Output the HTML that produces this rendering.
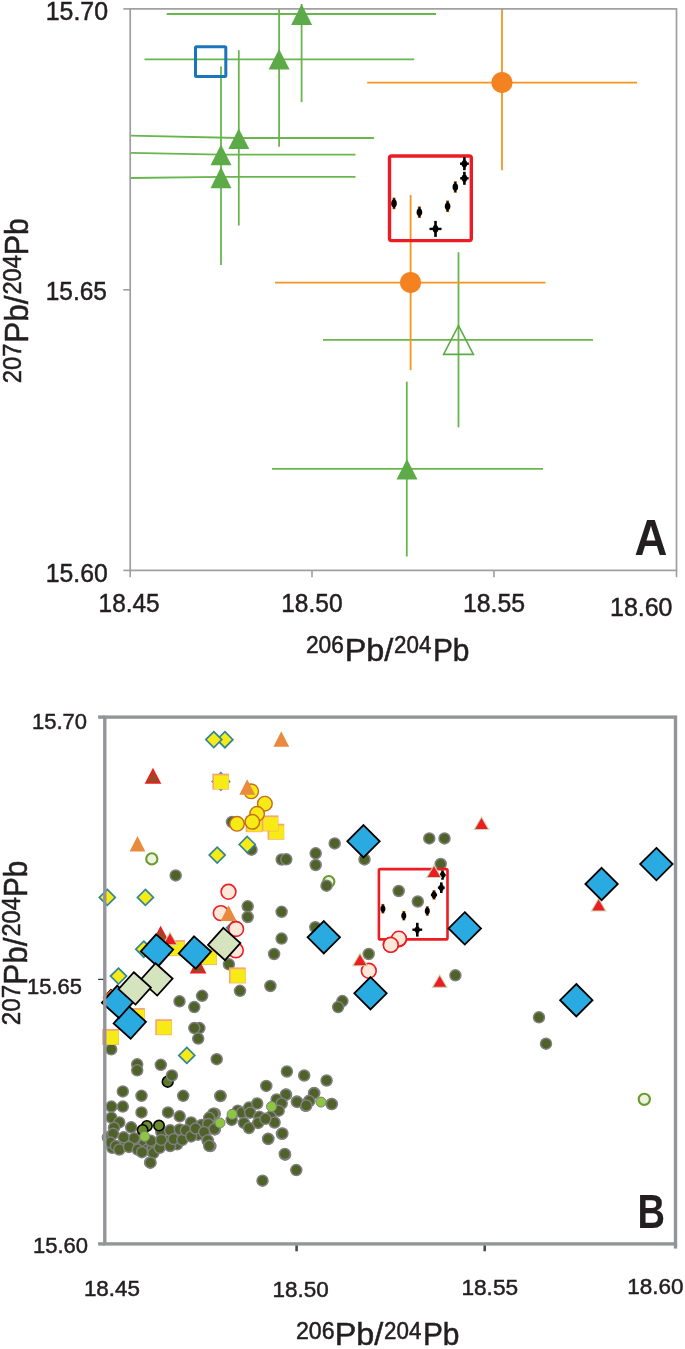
<!DOCTYPE html>
<html><head><meta charset="utf-8"><title>Pb isotope plots</title>
<style>html,body{margin:0;padding:0;background:#fff}svg{display:block}text{font-family:"Liberation Sans", sans-serif;fill:#231f20}</style>
</head><body>
<svg width="685" height="1349" viewBox="0 0 685 1349">
<rect width="685" height="1349" fill="#fff"/>
<g id="panelA">
<line x1="166.7" y1="14" x2="436.1" y2="14" stroke="#68b64d" stroke-width="1.8"/>
<line x1="301.6" y1="4" x2="301.6" y2="102.2" stroke="#68b64d" stroke-width="1.8"/>
<line x1="144.5" y1="59.3" x2="414.2" y2="59.3" stroke="#68b64d" stroke-width="1.8"/>
<line x1="279.1" y1="9" x2="279.1" y2="146.8" stroke="#68b64d" stroke-width="1.8"/>
<line x1="130.2" y1="135.6" x2="238.8" y2="138" stroke="#68b64d" stroke-width="1.8"/>
<line x1="238.8" y1="138" x2="373.9" y2="138" stroke="#68b64d" stroke-width="1.8"/>
<line x1="238.8" y1="50.2" x2="238.8" y2="225.5" stroke="#68b64d" stroke-width="1.8"/>
<line x1="131" y1="152.8" x2="221" y2="154.6" stroke="#68b64d" stroke-width="1.8"/>
<line x1="221" y1="154.6" x2="355.5" y2="154.6" stroke="#68b64d" stroke-width="1.8"/>
<line x1="221" y1="66.6" x2="221" y2="265" stroke="#68b64d" stroke-width="1.8"/>
<line x1="131" y1="178" x2="221" y2="176.8" stroke="#68b64d" stroke-width="1.8"/>
<line x1="221" y1="176.8" x2="355.5" y2="176.8" stroke="#68b64d" stroke-width="1.8"/>
<line x1="272" y1="468.9" x2="543" y2="468.9" stroke="#68b64d" stroke-width="1.8"/>
<line x1="406.8" y1="381.6" x2="406.8" y2="556.5" stroke="#68b64d" stroke-width="1.8"/>
<line x1="323" y1="339.8" x2="593" y2="339.8" stroke="#68b64d" stroke-width="1.8"/>
<line x1="458.5" y1="252.2" x2="458.5" y2="427.4" stroke="#68b64d" stroke-width="1.8"/>
<line x1="367.2" y1="82.6" x2="637.1" y2="82.6" stroke="#f7941d" stroke-width="1.8"/>
<line x1="502" y1="9" x2="502" y2="170.2" stroke="#f7941d" stroke-width="1.8"/>
<line x1="275" y1="282.6" x2="545.5" y2="282.6" stroke="#f7941d" stroke-width="1.8"/>
<line x1="410.6" y1="194.9" x2="410.6" y2="370.2" stroke="#f7941d" stroke-width="1.8"/>
<rect x="130.2" y="8.9" width="546.3" height="561.5" fill="none" stroke="#9e9e9e" stroke-width="1.7"/>
<line x1="123.3" y1="8.9" x2="130.2" y2="8.9" stroke="#9e9e9e" stroke-width="1.6"/>
<line x1="123.3" y1="289.8" x2="130.2" y2="289.8" stroke="#9e9e9e" stroke-width="1.6"/>
<line x1="123.3" y1="570.4" x2="130.2" y2="570.4" stroke="#9e9e9e" stroke-width="1.6"/>
<line x1="130.2" y1="570.4" x2="130.2" y2="577.2" stroke="#9e9e9e" stroke-width="1.6"/>
<line x1="312.0" y1="570.4" x2="312.0" y2="577.2" stroke="#9e9e9e" stroke-width="1.6"/>
<line x1="494.0" y1="570.4" x2="494.0" y2="577.2" stroke="#9e9e9e" stroke-width="1.6"/>
<line x1="676.5" y1="570.4" x2="676.5" y2="577.2" stroke="#9e9e9e" stroke-width="1.6"/>
<polygon points="301.6,4.1 312.1,25.1 291.1,25.1" fill="#5dab48"/>
<polygon points="279.1,49 289.6,69.5 268.6,69.5" fill="#5dab48"/>
<polygon points="238.8,128.5 249.3,148.9 228.3,148.9" fill="#5dab48"/>
<polygon points="221,144.5 231.5,165.3 210.5,165.3" fill="#5dab48"/>
<polygon points="221,167 231.5,188.3 210.5,188.3" fill="#5dab48"/>
<polygon points="407,458.9 417.5,479.4 396.5,479.4" fill="#5dab48"/>
<polygon points="458.5,325.6 473.4,354.4 443.6,354.4" fill="none" stroke="#5dab48" stroke-width="1.6" stroke-linejoin="miter"/>
<circle cx="502" cy="82.6" r="10.6" fill="#f58220"/>
<circle cx="410.6" cy="282.6" r="10.6" fill="#f58220"/>
<rect x="195.5" y="46.8" width="30.3" height="29.7" rx="1" fill="none" stroke="#1b75bb" stroke-width="3"/>
<rect x="389.5" y="156" width="81.8" height="84.6" rx="2" fill="none" stroke="#ed1c24" stroke-width="3.4"/>
<line x1="394.0" y1="197.6" x2="394.0" y2="209.20000000000002" stroke="#b85a08" stroke-width="3"/>
<line x1="394.0" y1="198.29999999999998" x2="394.0" y2="208.50000000000003" stroke="#000" stroke-width="1.7"/>
<ellipse cx="394.0" cy="203.4" rx="2.8" ry="3.8" fill="#000"/>
<line x1="419.4" y1="206.39999999999998" x2="419.4" y2="218.0" stroke="#b85a08" stroke-width="3"/>
<line x1="419.4" y1="207.09999999999997" x2="419.4" y2="217.3" stroke="#000" stroke-width="1.7"/>
<ellipse cx="419.4" cy="212.2" rx="2.8" ry="3.8" fill="#000"/>
<line x1="435.5" y1="220.9" x2="435.5" y2="236.9" stroke="#000" stroke-width="2.6"/>
<line x1="429.5" y1="228.9" x2="441.5" y2="228.9" stroke="#000" stroke-width="2.4"/>
<ellipse cx="435.5" cy="228.9" rx="2.8" ry="3.8" fill="#000"/>
<line x1="447.6" y1="200.5" x2="447.6" y2="212.10000000000002" stroke="#b85a08" stroke-width="3"/>
<line x1="447.6" y1="201.2" x2="447.6" y2="211.40000000000003" stroke="#000" stroke-width="1.7"/>
<ellipse cx="447.6" cy="206.3" rx="2.8" ry="3.8" fill="#000"/>
<line x1="455.3" y1="181.2" x2="455.3" y2="192.8" stroke="#b85a08" stroke-width="3"/>
<line x1="455.3" y1="181.89999999999998" x2="455.3" y2="192.10000000000002" stroke="#000" stroke-width="1.7"/>
<ellipse cx="455.3" cy="187.0" rx="2.8" ry="3.8" fill="#000"/>
<line x1="464.4" y1="171.8" x2="464.4" y2="184.8" stroke="#000" stroke-width="2.6"/>
<line x1="460.2" y1="178.3" x2="468.59999999999997" y2="178.3" stroke="#000" stroke-width="2.4"/>
<ellipse cx="464.4" cy="178.3" rx="2.8" ry="3.8" fill="#000"/>
<line x1="464.4" y1="157.2" x2="464.4" y2="170.2" stroke="#000" stroke-width="2.6"/>
<line x1="460.0" y1="163.7" x2="468.79999999999995" y2="163.7" stroke="#000" stroke-width="2.4"/>
<ellipse cx="464.4" cy="163.7" rx="2.8" ry="3.8" fill="#000"/>
<text x="45.73" y="20.3" font-size="25.4" font-weight="normal" textLength="62.33" lengthAdjust="spacingAndGlyphs" stroke="#231f20" stroke-width="0.5">15.70</text>
<text x="45.77" y="300.4" font-size="25.4" font-weight="normal" textLength="61.17" lengthAdjust="spacingAndGlyphs" stroke="#231f20" stroke-width="0.5">15.65</text>
<text x="45.74" y="581.5" font-size="25.4" font-weight="normal" textLength="62.01" lengthAdjust="spacingAndGlyphs" stroke="#231f20" stroke-width="0.5">15.60</text>
<text x="98.57" y="612.2" font-size="25.4" font-weight="normal" textLength="61.07" lengthAdjust="spacingAndGlyphs" stroke="#231f20" stroke-width="0.5">18.45</text>
<text x="281.26" y="612.2" font-size="25.4" font-weight="normal" textLength="61.28" lengthAdjust="spacingAndGlyphs" stroke="#231f20" stroke-width="0.5">18.50</text>
<text x="462.94" y="612.2" font-size="25.4" font-weight="normal" textLength="62.12" lengthAdjust="spacingAndGlyphs" stroke="#231f20" stroke-width="0.5">18.55</text>
<text x="610.03" y="615.7" font-size="25.4" font-weight="normal" textLength="62.43" lengthAdjust="spacingAndGlyphs" stroke="#231f20" stroke-width="0.5">18.60</text>
<text x="634.56" y="555.2" font-size="50.8" font-weight="bold" textLength="32.88" lengthAdjust="spacingAndGlyphs" stroke="#231f20" stroke-width="0">A</text>
<text x="305.96" y="653.1" font-size="23.3" font-weight="normal" textLength="37.94" lengthAdjust="spacingAndGlyphs" stroke="#231f20" stroke-width="0.5">206</text>
<text x="344.71" y="660.5" font-size="31.6" font-weight="normal" textLength="48.62" lengthAdjust="spacingAndGlyphs" stroke="#231f20" stroke-width="0.5">Pb/</text>
<text x="393.98" y="653.1" font-size="23.3" font-weight="normal" textLength="37.37" lengthAdjust="spacingAndGlyphs" stroke="#231f20" stroke-width="0.5">204</text>
<text x="432.91" y="660.5" font-size="31.6" font-weight="normal" textLength="36.58" lengthAdjust="spacingAndGlyphs" stroke="#231f20" stroke-width="0.5">Pb</text>
<g transform="translate(28.3 382.1) rotate(-90)">
<text x="-1.19" y="-7.2" font-size="25.4" font-weight="normal" textLength="39.77" lengthAdjust="spacingAndGlyphs" stroke="#231f20" stroke-width="0.5">207</text>
<text x="39.48" y="0" font-size="33.8" font-weight="normal" textLength="47.25" lengthAdjust="spacingAndGlyphs" stroke="#231f20" stroke-width="0.5">Pb/</text>
<text x="87.52" y="-7.2" font-size="25.4" font-weight="normal" textLength="39.37" lengthAdjust="spacingAndGlyphs" stroke="#231f20" stroke-width="0.5">204</text>
<text x="126.97" y="0" font-size="33.8" font-weight="normal" textLength="37.14" lengthAdjust="spacingAndGlyphs" stroke="#231f20" stroke-width="0.5">Pb</text>
</g>
</g>
<g id="panelB">
<circle cx="328.8" cy="881.6" r="5.6" fill="#eef3e0" stroke="#6b9a2f" stroke-width="2.1"/>
<circle cx="175.7" cy="875.4" r="5.5" fill="#4f6228" stroke="#808080" stroke-width="1.5"/>
<circle cx="232" cy="822" r="5.5" fill="#4f6228" stroke="#808080" stroke-width="1.5"/>
<circle cx="251.5" cy="849.7" r="5.5" fill="#4f6228" stroke="#808080" stroke-width="1.5"/>
<circle cx="281.7" cy="859.5" r="5.5" fill="#4f6228" stroke="#808080" stroke-width="1.5"/>
<circle cx="286.3" cy="859.3" r="5.5" fill="#4f6228" stroke="#808080" stroke-width="1.5"/>
<circle cx="334.7" cy="843.4" r="5.5" fill="#4f6228" stroke="#808080" stroke-width="1.5"/>
<circle cx="315.7" cy="853.3" r="5.5" fill="#4f6228" stroke="#808080" stroke-width="1.5"/>
<circle cx="315.7" cy="865" r="5.5" fill="#4f6228" stroke="#808080" stroke-width="1.5"/>
<circle cx="364.5" cy="859.4" r="5.5" fill="#4f6228" stroke="#808080" stroke-width="1.5"/>
<circle cx="429.3" cy="838.4" r="5.5" fill="#4f6228" stroke="#808080" stroke-width="1.5"/>
<circle cx="444.5" cy="838.4" r="5.5" fill="#4f6228" stroke="#808080" stroke-width="1.5"/>
<circle cx="440.7" cy="864" r="5.5" fill="#4f6228" stroke="#808080" stroke-width="1.5"/>
<circle cx="398.7" cy="891" r="5.5" fill="#4f6228" stroke="#808080" stroke-width="1.5"/>
<circle cx="417.8" cy="901.5" r="5.5" fill="#4f6228" stroke="#808080" stroke-width="1.5"/>
<circle cx="281.6" cy="911.8" r="5.5" fill="#4f6228" stroke="#808080" stroke-width="1.5"/>
<circle cx="281.6" cy="938.6" r="5.5" fill="#4f6228" stroke="#808080" stroke-width="1.5"/>
<circle cx="274.1" cy="954" r="5.5" fill="#4f6228" stroke="#808080" stroke-width="1.5"/>
<circle cx="270.4" cy="986" r="5.5" fill="#4f6228" stroke="#808080" stroke-width="1.5"/>
<circle cx="315.3" cy="927.2" r="5.5" fill="#4f6228" stroke="#808080" stroke-width="1.5"/>
<circle cx="342.4" cy="1001.1" r="5.5" fill="#4f6228" stroke="#808080" stroke-width="1.5"/>
<circle cx="338.1" cy="1007.1" r="5.5" fill="#4f6228" stroke="#808080" stroke-width="1.5"/>
<circle cx="368.7" cy="954" r="5.5" fill="#4f6228" stroke="#808080" stroke-width="1.5"/>
<circle cx="455.4" cy="975.3" r="5.5" fill="#4f6228" stroke="#808080" stroke-width="1.5"/>
<circle cx="539" cy="1017.3" r="5.5" fill="#4f6228" stroke="#808080" stroke-width="1.5"/>
<circle cx="546" cy="1043.7" r="5.5" fill="#4f6228" stroke="#808080" stroke-width="1.5"/>
<circle cx="247.7" cy="906.3" r="5.5" fill="#4f6228" stroke="#808080" stroke-width="1.5"/>
<circle cx="247.7" cy="917" r="5.5" fill="#4f6228" stroke="#808080" stroke-width="1.5"/>
<circle cx="228.9" cy="964.3" r="5.5" fill="#4f6228" stroke="#808080" stroke-width="1.5"/>
<circle cx="240" cy="990.8" r="5.5" fill="#4f6228" stroke="#808080" stroke-width="1.5"/>
<circle cx="179.5" cy="1001.3" r="5.5" fill="#4f6228" stroke="#808080" stroke-width="1.5"/>
<circle cx="202.1" cy="995.8" r="5.5" fill="#4f6228" stroke="#808080" stroke-width="1.5"/>
<circle cx="194.3" cy="1007.1" r="5.5" fill="#4f6228" stroke="#808080" stroke-width="1.5"/>
<circle cx="199.4" cy="1028.1" r="5.5" fill="#4f6228" stroke="#808080" stroke-width="1.5"/>
<circle cx="194.3" cy="1028.1" r="5.5" fill="#4f6228" stroke="#808080" stroke-width="1.5"/>
<circle cx="198.2" cy="1038.6" r="5.5" fill="#4f6228" stroke="#808080" stroke-width="1.5"/>
<circle cx="111.2" cy="1049.3" r="5.5" fill="#4f6228" stroke="#808080" stroke-width="1.5"/>
<circle cx="216.7" cy="1059.2" r="5.5" fill="#4f6228" stroke="#808080" stroke-width="1.5"/>
<circle cx="137.2" cy="1064.3" r="5.5" fill="#4f6228" stroke="#808080" stroke-width="1.5"/>
<circle cx="137.2" cy="1070.3" r="5.5" fill="#4f6228" stroke="#808080" stroke-width="1.5"/>
<circle cx="160.8" cy="1064.8" r="5.5" fill="#4f6228" stroke="#808080" stroke-width="1.5"/>
<circle cx="150.1" cy="1162.4" r="5.5" fill="#4f6228" stroke="#808080" stroke-width="1.5"/>
<circle cx="286.9" cy="1071.5" r="5.5" fill="#4f6228" stroke="#808080" stroke-width="1.5"/>
<circle cx="304.2" cy="1075.5" r="5.5" fill="#4f6228" stroke="#808080" stroke-width="1.5"/>
<circle cx="326.6" cy="1080.5" r="5.5" fill="#4f6228" stroke="#808080" stroke-width="1.5"/>
<circle cx="286.1" cy="1094.6" r="5.5" fill="#4f6228" stroke="#808080" stroke-width="1.5"/>
<circle cx="314.2" cy="1092.9" r="5.5" fill="#4f6228" stroke="#808080" stroke-width="1.5"/>
<circle cx="296.8" cy="1101.6" r="5.5" fill="#4f6228" stroke="#808080" stroke-width="1.5"/>
<circle cx="309.2" cy="1100.8" r="5.5" fill="#4f6228" stroke="#808080" stroke-width="1.5"/>
<circle cx="305.5" cy="1105.8" r="5.5" fill="#4f6228" stroke="#808080" stroke-width="1.5"/>
<circle cx="331.5" cy="1104" r="5.5" fill="#4f6228" stroke="#808080" stroke-width="1.5"/>
<circle cx="268.3" cy="1138.8" r="5.5" fill="#4f6228" stroke="#808080" stroke-width="1.5"/>
<circle cx="281.9" cy="1133.8" r="5.5" fill="#4f6228" stroke="#808080" stroke-width="1.5"/>
<circle cx="285.1" cy="1154.7" r="5.5" fill="#4f6228" stroke="#808080" stroke-width="1.5"/>
<circle cx="296.3" cy="1170.1" r="5.5" fill="#4f6228" stroke="#808080" stroke-width="1.5"/>
<circle cx="262.5" cy="1180.7" r="5.5" fill="#4f6228" stroke="#808080" stroke-width="1.5"/>
<circle cx="266.3" cy="1085.9" r="5.5" fill="#4f6228" stroke="#808080" stroke-width="1.5"/>
<circle cx="220.4" cy="1096.1" r="5.5" fill="#4f6228" stroke="#808080" stroke-width="1.5"/>
<circle cx="326.5" cy="885.7" r="5.5" fill="#4f6228" stroke="#808080" stroke-width="1.5"/>
<circle cx="167.7" cy="1081.7" r="5.4" fill="#5d7a2c" stroke="#000" stroke-width="1.6"/>
<circle cx="171.9" cy="1075.5" r="5.5" fill="#4f6228" stroke="#808080" stroke-width="1.5"/>
<circle cx="107.9" cy="1137.3" r="5.5" fill="#4f6228" stroke="#808080" stroke-width="1.5"/>
<circle cx="112.3" cy="1147.8" r="5.5" fill="#4f6228" stroke="#808080" stroke-width="1.5"/>
<circle cx="124.5" cy="1146.1" r="5.5" fill="#4f6228" stroke="#808080" stroke-width="1.5"/>
<circle cx="143.8" cy="1144.3" r="5.5" fill="#4f6228" stroke="#808080" stroke-width="1.5"/>
<circle cx="147.3" cy="1149.6" r="5.5" fill="#4f6228" stroke="#808080" stroke-width="1.5"/>
<circle cx="133.3" cy="1144.3" r="5.5" fill="#4f6228" stroke="#808080" stroke-width="1.5"/>
<circle cx="157.8" cy="1142.6" r="5.5" fill="#4f6228" stroke="#808080" stroke-width="1.5"/>
<circle cx="166.6" cy="1140.8" r="5.5" fill="#4f6228" stroke="#808080" stroke-width="1.5"/>
<circle cx="177.1" cy="1144.3" r="5.5" fill="#4f6228" stroke="#808080" stroke-width="1.5"/>
<circle cx="175.3" cy="1133.8" r="5.5" fill="#4f6228" stroke="#808080" stroke-width="1.5"/>
<circle cx="198.1" cy="1134.7" r="5.5" fill="#4f6228" stroke="#808080" stroke-width="1.5"/>
<circle cx="201.6" cy="1125.0" r="5.5" fill="#4f6228" stroke="#808080" stroke-width="1.5"/>
<circle cx="122.8" cy="1091.4" r="5.5" fill="#4f6228" stroke="#808080" stroke-width="1.5"/>
<circle cx="141.5" cy="1095.8" r="5.5" fill="#4f6228" stroke="#808080" stroke-width="1.5"/>
<circle cx="183.2" cy="1095.8" r="5.5" fill="#4f6228" stroke="#808080" stroke-width="1.5"/>
<circle cx="111.4" cy="1106.6" r="5.5" fill="#4f6228" stroke="#808080" stroke-width="1.5"/>
<circle cx="122.8" cy="1106.6" r="5.5" fill="#4f6228" stroke="#808080" stroke-width="1.5"/>
<circle cx="141.5" cy="1112.4" r="5.5" fill="#4f6228" stroke="#808080" stroke-width="1.5"/>
<circle cx="168.0" cy="1112.4" r="5.5" fill="#4f6228" stroke="#808080" stroke-width="1.5"/>
<circle cx="179.7" cy="1116.3" r="5.5" fill="#4f6228" stroke="#808080" stroke-width="1.5"/>
<circle cx="111.4" cy="1117.7" r="5.5" fill="#4f6228" stroke="#808080" stroke-width="1.5"/>
<circle cx="119.3" cy="1122.4" r="5.5" fill="#4f6228" stroke="#808080" stroke-width="1.5"/>
<circle cx="131.2" cy="1127.3" r="5.5" fill="#4f6228" stroke="#808080" stroke-width="1.5"/>
<circle cx="191.1" cy="1122.4" r="5.5" fill="#4f6228" stroke="#808080" stroke-width="1.5"/>
<circle cx="210.4" cy="1117.2" r="5.5" fill="#4f6228" stroke="#808080" stroke-width="1.5"/>
<circle cx="214.8" cy="1113.7" r="5.5" fill="#4f6228" stroke="#808080" stroke-width="1.5"/>
<circle cx="114.0" cy="1127.7" r="5.5" fill="#4f6228" stroke="#808080" stroke-width="1.5"/>
<circle cx="113.1" cy="1133.8" r="5.5" fill="#4f6228" stroke="#808080" stroke-width="1.5"/>
<circle cx="123.7" cy="1137.3" r="5.5" fill="#4f6228" stroke="#808080" stroke-width="1.5"/>
<circle cx="134.2" cy="1138.2" r="5.5" fill="#4f6228" stroke="#808080" stroke-width="1.5"/>
<circle cx="110.5" cy="1142.6" r="5.5" fill="#4f6228" stroke="#808080" stroke-width="1.5"/>
<circle cx="115.8" cy="1146.1" r="5.5" fill="#4f6228" stroke="#808080" stroke-width="1.5"/>
<circle cx="119.3" cy="1149.6" r="5.5" fill="#4f6228" stroke="#808080" stroke-width="1.5"/>
<circle cx="128.9" cy="1146.9" r="5.5" fill="#4f6228" stroke="#808080" stroke-width="1.5"/>
<circle cx="137.7" cy="1149.6" r="5.5" fill="#4f6228" stroke="#808080" stroke-width="1.5"/>
<circle cx="142.0" cy="1152.2" r="5.5" fill="#4f6228" stroke="#808080" stroke-width="1.5"/>
<circle cx="152.6" cy="1147.8" r="5.5" fill="#4f6228" stroke="#808080" stroke-width="1.5"/>
<circle cx="153.4" cy="1153.1" r="5.5" fill="#4f6228" stroke="#808080" stroke-width="1.5"/>
<circle cx="159.6" cy="1147.8" r="5.5" fill="#4f6228" stroke="#808080" stroke-width="1.5"/>
<circle cx="150.8" cy="1140.8" r="5.5" fill="#4f6228" stroke="#808080" stroke-width="1.5"/>
<circle cx="161.3" cy="1132.0" r="5.5" fill="#4f6228" stroke="#808080" stroke-width="1.5"/>
<circle cx="161.3" cy="1139.9" r="5.5" fill="#4f6228" stroke="#808080" stroke-width="1.5"/>
<circle cx="170.1" cy="1130.3" r="5.5" fill="#4f6228" stroke="#808080" stroke-width="1.5"/>
<circle cx="170.1" cy="1146.1" r="5.5" fill="#4f6228" stroke="#808080" stroke-width="1.5"/>
<circle cx="173.6" cy="1139.1" r="5.5" fill="#4f6228" stroke="#808080" stroke-width="1.5"/>
<circle cx="179.7" cy="1129.4" r="5.5" fill="#4f6228" stroke="#808080" stroke-width="1.5"/>
<circle cx="182.3" cy="1139.9" r="5.5" fill="#4f6228" stroke="#808080" stroke-width="1.5"/>
<circle cx="185.8" cy="1130.3" r="5.5" fill="#4f6228" stroke="#808080" stroke-width="1.5"/>
<circle cx="191.1" cy="1136.4" r="5.5" fill="#4f6228" stroke="#808080" stroke-width="1.5"/>
<circle cx="195.5" cy="1128.5" r="5.5" fill="#4f6228" stroke="#808080" stroke-width="1.5"/>
<circle cx="205.1" cy="1132.0" r="5.5" fill="#4f6228" stroke="#808080" stroke-width="1.5"/>
<circle cx="207.7" cy="1140.8" r="5.5" fill="#4f6228" stroke="#808080" stroke-width="1.5"/>
<circle cx="210.4" cy="1146.1" r="5.5" fill="#4f6228" stroke="#808080" stroke-width="1.5"/>
<circle cx="214.8" cy="1129.4" r="5.5" fill="#4f6228" stroke="#808080" stroke-width="1.5"/>
<circle cx="208.6" cy="1124.2" r="5.5" fill="#4f6228" stroke="#808080" stroke-width="1.5"/>
<circle cx="150.5" cy="1162.7" r="5.5" fill="#4f6228" stroke="#808080" stroke-width="1.5"/>
<circle cx="220.4" cy="1095.9" r="5.5" fill="#4f6228" stroke="#808080" stroke-width="1.5"/>
<circle cx="285.8" cy="1094.7" r="5.5" fill="#4f6228" stroke="#808080" stroke-width="1.5"/>
<circle cx="314.0" cy="1093.3" r="5.5" fill="#4f6228" stroke="#808080" stroke-width="1.5"/>
<circle cx="297.1" cy="1101.9" r="5.5" fill="#4f6228" stroke="#808080" stroke-width="1.5"/>
<circle cx="309.3" cy="1101.1" r="5.5" fill="#4f6228" stroke="#808080" stroke-width="1.5"/>
<circle cx="306.3" cy="1105.5" r="5.5" fill="#4f6228" stroke="#808080" stroke-width="1.5"/>
<circle cx="331.8" cy="1104.1" r="5.5" fill="#4f6228" stroke="#808080" stroke-width="1.5"/>
<circle cx="213.3" cy="1113.7" r="5.5" fill="#4f6228" stroke="#808080" stroke-width="1.5"/>
<circle cx="209.2" cy="1117.8" r="5.5" fill="#4f6228" stroke="#808080" stroke-width="1.5"/>
<circle cx="208.2" cy="1123.9" r="5.5" fill="#4f6228" stroke="#808080" stroke-width="1.5"/>
<circle cx="214.3" cy="1129.0" r="5.5" fill="#4f6228" stroke="#808080" stroke-width="1.5"/>
<circle cx="204.1" cy="1132.1" r="5.5" fill="#4f6228" stroke="#808080" stroke-width="1.5"/>
<circle cx="207.8" cy="1140.3" r="5.5" fill="#4f6228" stroke="#808080" stroke-width="1.5"/>
<circle cx="209.2" cy="1145.8" r="5.5" fill="#4f6228" stroke="#808080" stroke-width="1.5"/>
<circle cx="237.8" cy="1110.7" r="5.5" fill="#4f6228" stroke="#808080" stroke-width="1.5"/>
<circle cx="241.9" cy="1112.7" r="5.5" fill="#4f6228" stroke="#808080" stroke-width="1.5"/>
<circle cx="249.0" cy="1107.6" r="5.5" fill="#4f6228" stroke="#808080" stroke-width="1.5"/>
<circle cx="250.1" cy="1112.7" r="5.5" fill="#4f6228" stroke="#808080" stroke-width="1.5"/>
<circle cx="257.2" cy="1103.5" r="5.5" fill="#4f6228" stroke="#808080" stroke-width="1.5"/>
<circle cx="259.3" cy="1116.8" r="5.5" fill="#4f6228" stroke="#808080" stroke-width="1.5"/>
<circle cx="243.9" cy="1122.9" r="5.5" fill="#4f6228" stroke="#808080" stroke-width="1.5"/>
<circle cx="249.0" cy="1128.0" r="5.5" fill="#4f6228" stroke="#808080" stroke-width="1.5"/>
<circle cx="258.2" cy="1122.9" r="5.5" fill="#4f6228" stroke="#808080" stroke-width="1.5"/>
<circle cx="231.7" cy="1119.9" r="5.5" fill="#4f6228" stroke="#808080" stroke-width="1.5"/>
<circle cx="276.6" cy="1099.4" r="5.5" fill="#4f6228" stroke="#808080" stroke-width="1.5"/>
<circle cx="281.7" cy="1103.5" r="5.5" fill="#4f6228" stroke="#808080" stroke-width="1.5"/>
<circle cx="278.7" cy="1110.7" r="5.5" fill="#4f6228" stroke="#808080" stroke-width="1.5"/>
<circle cx="270.5" cy="1116.8" r="5.5" fill="#4f6228" stroke="#808080" stroke-width="1.5"/>
<circle cx="274.6" cy="1122.5" r="5.5" fill="#4f6228" stroke="#808080" stroke-width="1.5"/>
<circle cx="265.4" cy="1118.8" r="5.5" fill="#4f6228" stroke="#808080" stroke-width="1.5"/>
<circle cx="268.1" cy="1138.9" r="5.5" fill="#4f6228" stroke="#808080" stroke-width="1.5"/>
<circle cx="282.4" cy="1133.5" r="5.5" fill="#4f6228" stroke="#808080" stroke-width="1.5"/>
<circle cx="284.8" cy="1154.0" r="5.5" fill="#4f6228" stroke="#808080" stroke-width="1.5"/>
<circle cx="146.9" cy="1125.9" r="5.2" fill="#6b8c2c" stroke="#000" stroke-width="1.6"/>
<circle cx="142.6" cy="1129.9" r="5.2" fill="#6b8c2c" stroke="#000" stroke-width="1.6"/>
<circle cx="159.0" cy="1125.6" r="5.2" fill="#6b8c2c" stroke="#000" stroke-width="1.6"/>
<circle cx="144.7" cy="1136.4" r="5.0" fill="#8dc63f" stroke="#808080" stroke-width="1.0"/>
<circle cx="220.0" cy="1123.0" r="5.0" fill="#8dc63f" stroke="#808080" stroke-width="1.0"/>
<circle cx="232.1" cy="1114.3" r="5.0" fill="#8dc63f" stroke="#808080" stroke-width="1.0"/>
<circle cx="271.5" cy="1106.6" r="5.0" fill="#8dc63f" stroke="#808080" stroke-width="1.0"/>
<circle cx="321.0" cy="1102.1" r="5.0" fill="#8dc63f" stroke="#808080" stroke-width="1.0"/>
<circle cx="151.8" cy="858.9" r="5.6" fill="#eef3e0" stroke="#6b9a2f" stroke-width="2.1"/>
<circle cx="644.3" cy="1099.3" r="5.6" fill="#eef3e0" stroke="#6b9a2f" stroke-width="2.1"/>
<polygon points="220.9,772.8 229.5,781.4 220.9,790.0 212.3,781.4" fill="#f6eb14" stroke="#31859c" stroke-width="1.7" stroke-linejoin="miter"/>
<polygon points="224.9,731.7 232.9,739.7 224.9,747.7 216.9,739.7" fill="#f6eb14" stroke="#31859c" stroke-width="1.7" stroke-linejoin="miter"/>
<polygon points="213.8,731.6 221.8,739.6 213.8,747.6 205.8,739.6" fill="#f6eb14" stroke="#31859c" stroke-width="1.7" stroke-linejoin="miter"/>
<polygon points="247.2,836.5 255.2,844.5 247.2,852.5 239.2,844.5" fill="#f6eb14" stroke="#31859c" stroke-width="1.7" stroke-linejoin="miter"/>
<polygon points="217.2,847.1 225.2,855.1 217.2,863.1 209.2,855.1" fill="#f6eb14" stroke="#31859c" stroke-width="1.7" stroke-linejoin="miter"/>
<polygon points="107.3,889.4 115.3,897.4 107.3,905.4 99.3,897.4" fill="#f6eb14" stroke="#31859c" stroke-width="1.7" stroke-linejoin="miter"/>
<polygon points="145.4,889.4 153.4,897.4 145.4,905.4 137.4,897.4" fill="#f6eb14" stroke="#31859c" stroke-width="1.7" stroke-linejoin="miter"/>
<polygon points="118.5,968.1 126.5,976.1 118.5,984.1 110.5,976.1" fill="#f6eb14" stroke="#31859c" stroke-width="1.7" stroke-linejoin="miter"/>
<polygon points="143.8,941.2 151.8,949.2 143.8,957.2 135.8,949.2" fill="#f6eb14" stroke="#31859c" stroke-width="1.7" stroke-linejoin="miter"/>
<polygon points="186.8,1047.4 194.8,1055.4 186.8,1063.4 178.8,1055.4" fill="#f6eb14" stroke="#31859c" stroke-width="1.7" stroke-linejoin="miter"/>
<polygon points="234.6,919.7 242.6,927.7 234.6,935.7 226.6,927.7" fill="#f6eb14" stroke="#31859c" stroke-width="1.7" stroke-linejoin="miter"/>
<rect x="212.35" y="773.6" width="16.7" height="16" fill="#f7a578"/>
<rect x="213.95" y="775.4" width="14.7" height="13.6" fill="#f6eb14"/>
<rect x="245.65" y="816.2" width="16.7" height="16" fill="#f7a578"/>
<rect x="247.25" y="818.0" width="14.7" height="13.6" fill="#f6eb14"/>
<rect x="267.55" y="823.7" width="16.7" height="16" fill="#f7a578"/>
<rect x="269.15" y="825.5" width="14.7" height="13.6" fill="#f6eb14"/>
<rect x="261.75" y="815.4" width="16.7" height="16" fill="#f7a578"/>
<rect x="263.35" y="817.2" width="14.7" height="13.6" fill="#f6eb14"/>
<rect x="168.25" y="940.1" width="16.7" height="16" fill="#f7a578"/>
<rect x="169.85" y="941.9" width="14.7" height="13.6" fill="#f6eb14"/>
<rect x="200.25" y="949.0" width="16.7" height="16" fill="#f7a578"/>
<rect x="201.85" y="950.8" width="14.7" height="13.6" fill="#f6eb14"/>
<rect x="229.05" y="967.4" width="16.7" height="16" fill="#f7a578"/>
<rect x="230.65" y="969.2" width="14.7" height="13.6" fill="#f6eb14"/>
<rect x="128.15" y="1008" width="16.7" height="16" fill="#f7a578"/>
<rect x="129.75" y="1009.8" width="14.7" height="13.6" fill="#f6eb14"/>
<rect x="155.25" y="1019.2" width="16.7" height="16" fill="#f7a578"/>
<rect x="156.85" y="1021.0" width="14.7" height="13.6" fill="#f6eb14"/>
<rect x="102.25" y="1029.0" width="16.7" height="16" fill="#f7a578"/>
<rect x="103.85" y="1030.8" width="14.7" height="13.6" fill="#f6eb14"/>
<circle cx="251.2" cy="791.3" r="7.3" fill="#f6eb14" stroke="#c76a1e" stroke-width="1.4"/>
<circle cx="264.9" cy="803.7" r="7.3" fill="#f6eb14" stroke="#c76a1e" stroke-width="1.4"/>
<circle cx="257.1" cy="813.8" r="7.3" fill="#f6eb14" stroke="#c76a1e" stroke-width="1.4"/>
<circle cx="237.0" cy="823.8" r="7.3" fill="#f6eb14" stroke="#c76a1e" stroke-width="1.4"/>
<circle cx="252.3" cy="821.8" r="7.3" fill="#f6eb14" stroke="#c76a1e" stroke-width="1.4"/>
<polygon points="281.3,731.2 289.2,746.8000000000001 273.40000000000003,746.8000000000001" fill="#e98b3f"/>
<polygon points="247.2,779.2 255.1,794.8000000000001 239.29999999999998,794.8000000000001" fill="#e98b3f"/>
<polygon points="137.5,836 145.4,851.6 129.6,851.6" fill="#e98b3f"/>
<polygon points="228.5,905.4 236.4,921.0 220.6,921.0" fill="#e98b3f"/>
<polygon points="103.0,997.6 110.9,989.0 112.6,990.6 104.7,999.2" fill="#f26522" stroke="#000" stroke-width="0.8"/>
<circle cx="228.5" cy="891.8" r="7.4" fill="#fde9da" stroke="#ed1c24" stroke-width="1.6"/>
<circle cx="220.8" cy="913.1" r="7.4" fill="#fde9da" stroke="#ed1c24" stroke-width="1.6"/>
<circle cx="236.1" cy="929.0" r="7.4" fill="#fde9da" stroke="#ed1c24" stroke-width="1.6"/>
<circle cx="235.8" cy="950.4" r="7.4" fill="#fde9da" stroke="#ed1c24" stroke-width="1.6"/>
<circle cx="399" cy="939.3" r="7.4" fill="#fde9da" stroke="#ed1c24" stroke-width="1.6"/>
<circle cx="390.8" cy="944.8" r="7.4" fill="#fde9da" stroke="#ed1c24" stroke-width="1.6"/>
<circle cx="368.8" cy="970.8" r="7.4" fill="#fde9da" stroke="#ed1c24" stroke-width="1.6"/>
<polygon points="228.5,905.4 236.4,921.0 220.6,921.0" fill="#e98b3f"/>
<polygon points="153,769.6 160.0,783.0 146.0,783.0" fill="#9a4a20" stroke="#ed1c24" stroke-width="1.6" stroke-linejoin="miter"/>
<polygon points="160.6,927.4 167.6,940.8 153.6,940.8" fill="#9a4a20" stroke="#ed1c24" stroke-width="1.6" stroke-linejoin="miter"/>
<polygon points="198.1,959.4 205.1,972.8 191.1,972.8" fill="#9a4a20" stroke="#ed1c24" stroke-width="1.6" stroke-linejoin="miter"/>
<polygon points="481.5,818.1 487.8,828.9000000000001 475.2,828.9000000000001" fill="#ed1c24" stroke="#c5dcb0" stroke-width="2.2" paint-order="stroke" stroke-linejoin="miter"/>
<polygon points="170.0,933.5 176.3,944.3000000000001 163.7,944.3000000000001" fill="#ed1c24" stroke="#c5dcb0" stroke-width="2.2" paint-order="stroke" stroke-linejoin="miter"/>
<polygon points="360,954.4 366.3,965.2 353.7,965.2" fill="#ed1c24" stroke="#c5dcb0" stroke-width="2.2" paint-order="stroke" stroke-linejoin="miter"/>
<polygon points="439.7,976.0 446.0,986.8000000000001 433.4,986.8000000000001" fill="#ed1c24" stroke="#c5dcb0" stroke-width="2.2" paint-order="stroke" stroke-linejoin="miter"/>
<polygon points="598.6,899.6 604.9,910.4000000000001 592.3000000000001,910.4000000000001" fill="#ed1c24" stroke="#c5dcb0" stroke-width="2.2" paint-order="stroke" stroke-linejoin="miter"/>
<rect x="378.9" y="869.1" width="68.6" height="70.3" rx="1.5" fill="none" stroke="#ed1c24" stroke-width="2.6"/>
<circle cx="398.9" cy="938.7" r="7.4" fill="#fde9da" stroke="#ed1c24" stroke-width="1.6"/>
<circle cx="390.8" cy="944.9" r="7.4" fill="#fde9da" stroke="#ed1c24" stroke-width="1.6"/>
<line x1="382.9" y1="903.9000000000001" x2="382.9" y2="913.5" stroke="#c0600a" stroke-width="3"/>
<line x1="382.9" y1="904.5000000000001" x2="382.9" y2="912.9" stroke="#000" stroke-width="1.6"/>
<ellipse cx="382.9" cy="908.7" rx="2.5" ry="3.3" fill="#000"/>
<line x1="403.8" y1="910.9000000000001" x2="403.8" y2="920.5" stroke="#c0600a" stroke-width="3"/>
<line x1="403.8" y1="911.5000000000001" x2="403.8" y2="919.9" stroke="#000" stroke-width="1.6"/>
<ellipse cx="403.8" cy="915.7" rx="2.5" ry="3.3" fill="#000"/>
<line x1="417.3" y1="922.8000000000001" x2="417.3" y2="936.6" stroke="#000" stroke-width="2.6"/>
<line x1="412.40000000000003" y1="929.7" x2="422.2" y2="929.7" stroke="#000" stroke-width="2.4"/>
<ellipse cx="417.3" cy="929.7" rx="2.5" ry="3.3" fill="#000"/>
<line x1="427.3" y1="906.2" x2="427.3" y2="915.8" stroke="#c0600a" stroke-width="3"/>
<line x1="427.3" y1="906.8000000000001" x2="427.3" y2="915.1999999999999" stroke="#000" stroke-width="1.6"/>
<ellipse cx="427.3" cy="911.0" rx="2.5" ry="3.3" fill="#000"/>
<line x1="434" y1="890.1" x2="434" y2="899.6999999999999" stroke="#c0600a" stroke-width="3"/>
<line x1="434" y1="890.7" x2="434" y2="899.0999999999999" stroke="#000" stroke-width="1.6"/>
<line x1="430.9" y1="894.9" x2="437.1" y2="894.9" stroke="#000" stroke-width="2.4"/>
<ellipse cx="434" cy="894.9" rx="2.5" ry="3.3" fill="#000"/>
<line x1="441.3" y1="882.4000000000001" x2="441.3" y2="893.0" stroke="#000" stroke-width="2.6"/>
<line x1="437.90000000000003" y1="887.7" x2="444.7" y2="887.7" stroke="#000" stroke-width="2.4"/>
<ellipse cx="441.3" cy="887.7" rx="2.5" ry="3.3" fill="#000"/>
<line x1="442.5" y1="870.5" x2="442.5" y2="879.7" stroke="#000" stroke-width="2.6"/>
<line x1="439.3" y1="875.1" x2="445.7" y2="875.1" stroke="#000" stroke-width="2.4"/>
<ellipse cx="442.5" cy="875.1" rx="2.5" ry="3.3" fill="#000"/>
<polygon points="434,866.1999999999999 440.3,877.0 427.7,877.0" fill="#ed1c24" stroke="#c5dcb0" stroke-width="2.2" paint-order="stroke" stroke-linejoin="miter"/>
<polygon points="363.5,825.0999999999999 379.7,841.3 363.5,857.5 347.3,841.3" fill="#29abe2" stroke="#000" stroke-width="1.8" stroke-linejoin="miter"/>
<polygon points="656.4,847.9 672.6,864.1 656.4,880.3000000000001 640.1999999999999,864.1" fill="#29abe2" stroke="#000" stroke-width="1.8" stroke-linejoin="miter"/>
<polygon points="601.6,867.8 617.8000000000001,884 601.6,900.2 585.4,884" fill="#29abe2" stroke="#000" stroke-width="1.8" stroke-linejoin="miter"/>
<polygon points="323.8,921.0999999999999 340.0,937.3 323.8,953.5 307.6,937.3" fill="#29abe2" stroke="#000" stroke-width="1.8" stroke-linejoin="miter"/>
<polygon points="370.5,977.0999999999999 386.7,993.3 370.5,1009.5 354.3,993.3" fill="#29abe2" stroke="#000" stroke-width="1.8" stroke-linejoin="miter"/>
<polygon points="464.8,912.1999999999999 481.0,928.4 464.8,944.6 448.6,928.4" fill="#29abe2" stroke="#000" stroke-width="1.8" stroke-linejoin="miter"/>
<polygon points="576.3,984.0 592.5,1000.2 576.3,1016.4000000000001 560.0999999999999,1000.2" fill="#29abe2" stroke="#000" stroke-width="1.8" stroke-linejoin="miter"/>
<polygon points="129.8,1006.4 146.0,1022.6 129.8,1038.8 113.60000000000001,1022.6" fill="#29abe2" stroke="#000" stroke-width="1.8" stroke-linejoin="miter" transform="rotate(-3 129.8 1022.6)"/>
<polygon points="118.1,985.5999999999999 134.29999999999998,1001.8 118.1,1018.0 101.89999999999999,1001.8" fill="#29abe2" stroke="#000" stroke-width="1.8" stroke-linejoin="miter" transform="rotate(-3 118.1 1001.8)"/>
<polygon points="157,934.3 173.2,950.5 157,966.7 140.8,950.5" fill="#29abe2" stroke="#000" stroke-width="1.8" stroke-linejoin="miter" transform="rotate(-3 157 950.5)"/>
<polygon points="194.9,936.3 211.1,952.5 194.9,968.7 178.70000000000002,952.5" fill="#29abe2" stroke="#000" stroke-width="1.8" stroke-linejoin="miter" transform="rotate(-3 194.9 952.5)"/>
<polygon points="156.4,963.1999999999999 172.6,979.4 156.4,995.6 140.20000000000002,979.4" fill="#d6e3bf" stroke="#000" stroke-width="1.8" stroke-linejoin="miter" transform="rotate(-3 156.4 979.4)"/>
<polygon points="134.7,972.1999999999999 150.89999999999998,988.4 134.7,1004.6 118.49999999999999,988.4" fill="#d6e3bf" stroke="#000" stroke-width="1.8" stroke-linejoin="miter" transform="rotate(-3 134.7 988.4)"/>
<polygon points="224.2,927.8 240.39999999999998,944 224.2,960.2 208.0,944" fill="#d6e3bf" stroke="#000" stroke-width="1.8" stroke-linejoin="miter" transform="rotate(-3 224.2 944)"/>
<rect x="104.8" y="717.1" width="570.7" height="526.8000000000001" fill="none" stroke="#939598" stroke-width="3.4"/>
<line x1="98.1" y1="717.1" x2="104.8" y2="717.1" stroke="#939598" stroke-width="3.4"/>
<line x1="98.1" y1="1243.9" x2="104.8" y2="1243.9" stroke="#939598" stroke-width="3.4"/>
<line x1="98.1" y1="979.4" x2="103.3" y2="979.4" stroke="#3a3a3a" stroke-width="1.3"/>
<line x1="675.5" y1="1243.9" x2="675.5" y2="1248.6" stroke="#939598" stroke-width="3.4"/>
<line x1="296.6" y1="1245.5" x2="296.6" y2="1251.3" stroke="#4d4d4f" stroke-width="2.6"/>
<line x1="484.7" y1="1245.5" x2="484.7" y2="1251.3" stroke="#4d4d4f" stroke-width="2.6"/>
<text x="31.95" y="728.5" font-size="22.8" font-weight="normal" textLength="55.09" lengthAdjust="spacingAndGlyphs" stroke="#231f20" stroke-width="0.5">15.70</text>
<text x="27.06" y="993.7" font-size="22.8" font-weight="normal" textLength="54.88" lengthAdjust="spacingAndGlyphs" stroke="#231f20" stroke-width="0.5">15.65</text>
<text x="32.95" y="1253.2" font-size="22.8" font-weight="normal" textLength="55.19" lengthAdjust="spacingAndGlyphs" stroke="#231f20" stroke-width="0.5">15.60</text>
<text x="83.92" y="1295.6" font-size="22.8" font-weight="normal" textLength="56.03" lengthAdjust="spacingAndGlyphs" stroke="#231f20" stroke-width="0.5">18.45</text>
<text x="272.51" y="1296.5" font-size="22.8" font-weight="normal" textLength="56.24" lengthAdjust="spacingAndGlyphs" stroke="#231f20" stroke-width="0.5">18.50</text>
<text x="461.4" y="1295.3" font-size="22.8" font-weight="normal" textLength="56.77" lengthAdjust="spacingAndGlyphs" stroke="#231f20" stroke-width="0.5">18.55</text>
<text x="627.21" y="1294.3" font-size="22.8" font-weight="normal" textLength="56.24" lengthAdjust="spacingAndGlyphs" stroke="#231f20" stroke-width="0.5">18.60</text>
<text x="637.52" y="1228.4" font-size="48.6" font-weight="bold" textLength="27.59" lengthAdjust="spacingAndGlyphs" stroke="#231f20" stroke-width="0">B</text>
<text x="295.94" y="1338.6" font-size="23.3" font-weight="normal" textLength="38.58" lengthAdjust="spacingAndGlyphs" stroke="#231f20" stroke-width="0.5">206</text>
<text x="334.71" y="1344.9" font-size="31.6" font-weight="normal" textLength="48.62" lengthAdjust="spacingAndGlyphs" stroke="#231f20" stroke-width="0.5">Pb/</text>
<text x="383.98" y="1338.6" font-size="23.3" font-weight="normal" textLength="37.37" lengthAdjust="spacingAndGlyphs" stroke="#231f20" stroke-width="0.5">204</text>
<text x="422.91" y="1344.9" font-size="31.6" font-weight="normal" textLength="36.58" lengthAdjust="spacingAndGlyphs" stroke="#231f20" stroke-width="0.5">Pb</text>
<g transform="translate(27.4 1024.1) rotate(-90)">
<text x="-1.21" y="-7.3" font-size="25.4" font-weight="normal" textLength="40.51" lengthAdjust="spacingAndGlyphs" stroke="#231f20" stroke-width="0.5">207</text>
<text x="39.48" y="0" font-size="33.8" font-weight="normal" textLength="47.25" lengthAdjust="spacingAndGlyphs" stroke="#231f20" stroke-width="0.5">Pb/</text>
<text x="87.52" y="-7.3" font-size="25.4" font-weight="normal" textLength="39.37" lengthAdjust="spacingAndGlyphs" stroke="#231f20" stroke-width="0.5">204</text>
<text x="127.02" y="0" font-size="33.8" font-weight="normal" textLength="36.36" lengthAdjust="spacingAndGlyphs" stroke="#231f20" stroke-width="0.5">Pb</text>
</g>
</g>
</svg></body></html>
